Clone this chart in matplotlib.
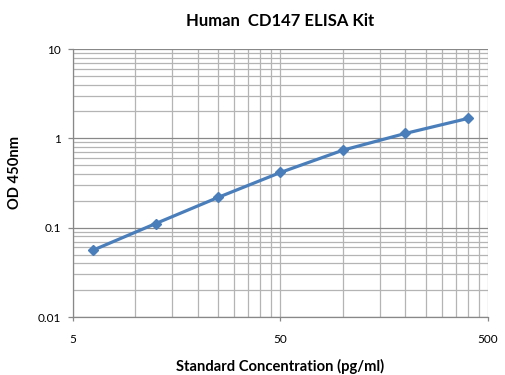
import matplotlib
matplotlib.use("Agg")
import matplotlib.pyplot as plt
from matplotlib.ticker import FixedLocator, NullFormatter, FixedFormatter

plt.rcParams['font.family'] = ['Lato', 'DejaVu Sans']

conc = [6.25, 12.5, 25, 50, 100, 200, 400]
od = [0.056, 0.111, 0.218, 0.415, 0.737, 1.135, 1.67]

x_major = [5, 50, 500]
x_major_labels = ["5", "50", "500"]
y_major = [0.01, 0.1, 1, 10]
y_major_labels = ["0.01", "0.1", "1", "10"]

title = "Human  CD147 ELISA Kit"
xlabel = "Standard Concentration (pg/ml)"
ylabel = "OD 450nm"

fig = plt.figure(figsize=(5.06, 3.75), dpi=100)
ax = fig.add_axes([73/506, 1-317/375, (488-73)/506, (317-49)/375])
ax.set_xscale('log')
ax.set_yscale('log')
ax.set_xlim(5, 500)
ax.set_ylim(0.01, 10)

x_minor = [5*k*10**d for d in range(2) for k in range(2, 10)]
y_minor = [k*10.0**d for d in range(-2, 1) for k in range(2, 10)]

ax.xaxis.set_major_locator(FixedLocator(x_major))
ax.xaxis.set_major_formatter(FixedFormatter(x_major_labels))
ax.xaxis.set_minor_locator(FixedLocator(x_minor))
ax.xaxis.set_minor_formatter(NullFormatter())
ax.yaxis.set_major_locator(FixedLocator(y_major))
ax.yaxis.set_major_formatter(FixedFormatter(y_major_labels))
ax.yaxis.set_minor_locator(FixedLocator(y_minor))
ax.yaxis.set_minor_formatter(NullFormatter())

ax.grid(True, which='minor', axis='both', color='#b4b4b4', lw=0.9)
ax.grid(True, which='major', axis='x', color='#b4b4b4', lw=0.9)
ax.grid(True, which='major', axis='y', color='#888888', lw=0.9)
ax.set_axisbelow(True)

for s in ['top', 'right']:
    ax.spines[s].set_visible(False)
for s in ['left', 'bottom']:
    ax.spines[s].set_color('#888888')
    ax.spines[s].set_linewidth(0.9)

ax.tick_params(axis='y', which='major', length=3.5, width=0.9, color='#888888', pad=5, labelsize=8.5)
ax.tick_params(axis='y', which='minor', length=0)
ax.tick_params(axis='x', which='major', length=3, width=0.9, color='#888888', pad=9, labelsize=8.5)
ax.tick_params(axis='x', which='minor', length=0)

ax.plot(conc, od, color='#4a7ebb', lw=2.3, marker='D', markersize=5.5,
        markerfacecolor='#4a7ebb', markeredgecolor='#4a7ebb', zorder=3, clip_on=False)

fig.text((73+488)/2/506, 1-21/375, title, ha='center', va='center', fontsize=12, fontweight='bold')
fig.text((73+488)/2/506, 1-366/375, xlabel, ha='center', va='center', fontsize=10.6, fontweight='bold')
fig.text(15/506, 1-172/375, ylabel, ha='center', va='center', rotation=90, fontsize=10.6, fontweight='bold')

fig.savefig("out.png", dpi=100)
